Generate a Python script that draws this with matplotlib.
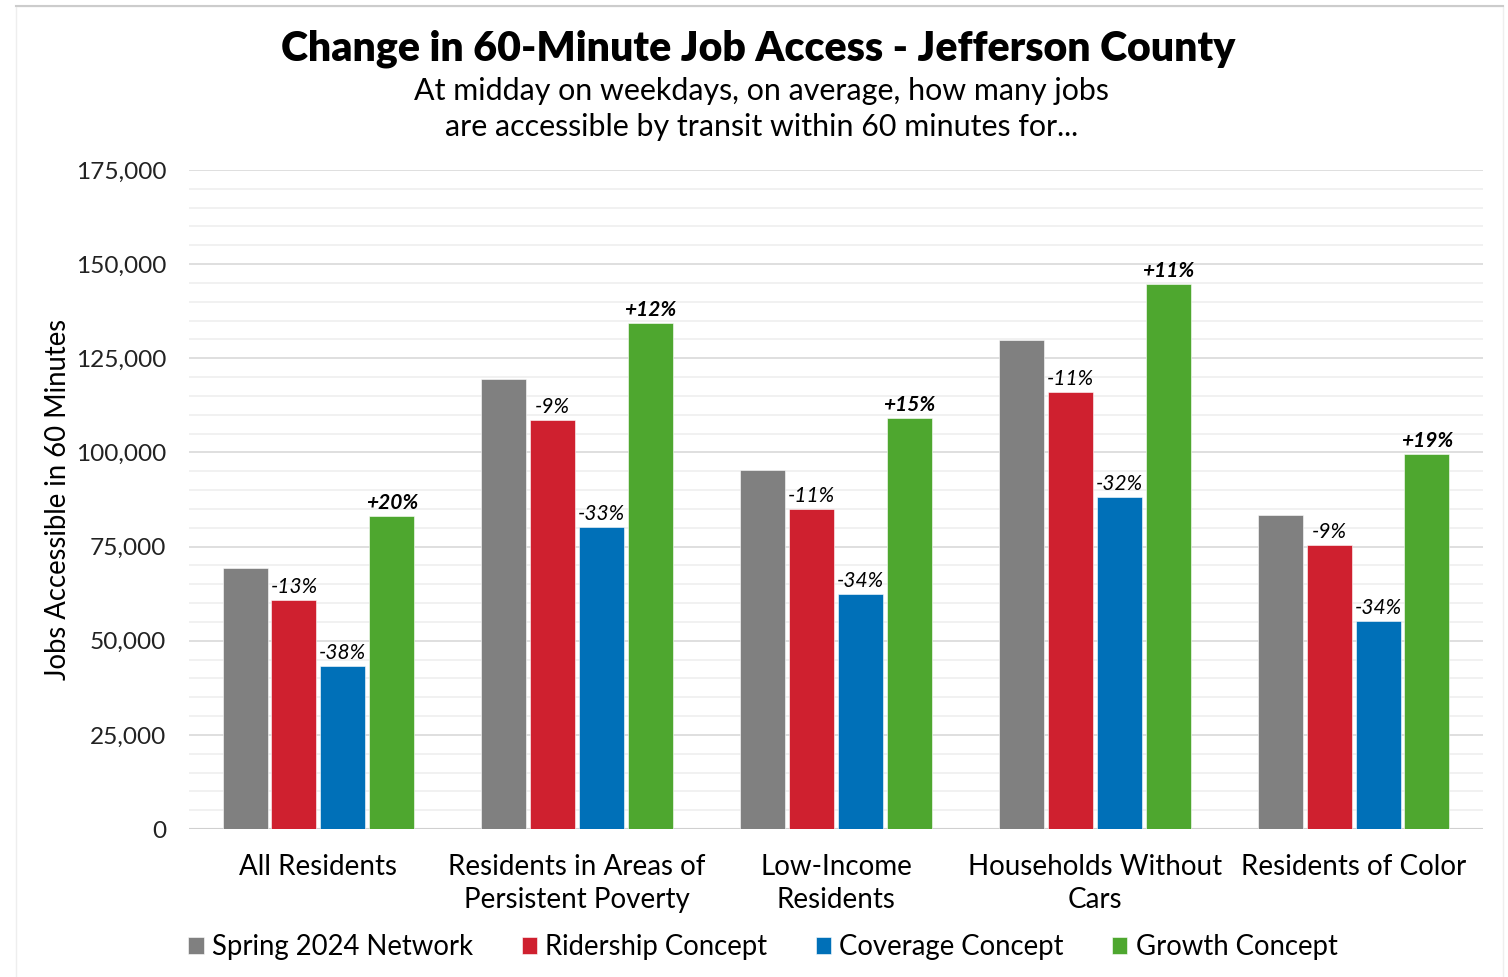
import matplotlib
matplotlib.use("Agg")
import matplotlib.pyplot as plt
import numpy as np
from matplotlib.patches import Rectangle
from matplotlib.ticker import MultipleLocator, FuncFormatter

plt.rcParams['font.family'] = ['Lato', 'DejaVu Sans']

categories = ["All Residents", "Residents in Areas of\nPersistent Poverty",
              "Low-Income\nResidents", "Households Without\nCars", "Residents of Color"]
series_names = ["Spring 2024 Network", "Ridership Concept", "Coverage Concept", "Growth Concept"]
spring_2024 = [69400, 119500, 95400, 129900, 83400]
ridership = [60800, 108700, 85000, 116100, 75500]
coverage = [43300, 80300, 62400, 88100, 55300]
growth = [83200, 134300, 109200, 144700, 99700]
ridership_pct = ["-13%", "-9%", "-11%", "-11%", "-9%"]
coverage_pct = ["-38%", "-33%", "-34%", "-32%", "-34%"]
growth_pct = ["+20%", "+12%", "+15%", "+11%", "+19%"]

colors = ["#808080", "#CF202F", "#0070B8", "#4EA72F"]

fig = plt.figure(figsize=(15.08, 9.77), dpi=100)
ax = fig.add_axes([189 / 1508, 1 - 829 / 977, (1483 - 189) / 1508, (829 - 170) / 977])

x = np.arange(len(categories))
step = 0.189
width = 0.174
all_series = [spring_2024, ridership, coverage, growth]
all_labels = [None, ridership_pct, coverage_pct, growth_pct]
for i, (vals, name, col, labs) in enumerate(zip(all_series, series_names, colors, all_labels)):
    pos = x + (i - 1.5) * step
    bars = ax.bar(pos, vals, width=width, color=col, label=name, zorder=3,
                  edgecolor='white', linewidth=0.4)
    if labs is not None:
        bold = labs[0].startswith("+")
        for b, lab in zip(bars, labs):
            ax.annotate(lab, (b.get_x() + b.get_width() / 2, b.get_height()),
                        xytext=(0, 2), textcoords='offset points', ha='center', va='bottom',
                        fontsize=15, style='italic',
                        fontweight='bold' if bold else 'normal', color='black', zorder=4)

ax.set_xlim(-0.5, len(categories) - 0.5)
ax.set_ylim(0, 175000)
ax.yaxis.set_major_locator(MultipleLocator(25000))
ax.yaxis.set_minor_locator(MultipleLocator(5000))
ax.yaxis.set_major_formatter(FuncFormatter(lambda v, p: f"{int(v):,}"))
ax.grid(axis='y', which='major', color='#d9d9d9', linewidth=1.2, zorder=0)
ax.grid(axis='y', which='minor', color='#efefef', linewidth=1.2, zorder=0)
ax.axhline(0, color='#d0d0d0', linewidth=1.5, zorder=2)
for s in ax.spines.values():
    s.set_visible(False)
ax.tick_params(axis='both', which='both', length=0)
ax.tick_params(axis='y', labelsize=17.6, pad=16.5, labelcolor='#222222')
ax.set_xticks(x)
ax.set_xticklabels(categories, fontsize=20, linespacing=1.32)
ax.tick_params(axis='x', pad=18)
ax.set_ylabel("Jobs Accessible in 60 Minutes", fontsize=19.8)
ax.yaxis.set_label_coords(-0.091, 0.5)

fig.text(0.503, 1 - 49 / 977, "Change in 60-Minute Job Access - Jefferson County",
         ha='center', va='center', fontsize=29.5, fontweight='heavy')
fig.text(0.505, 1 - 109 / 977,
         "At midday on weekdays, on average, how many jobs\nare accessible by transit within 60 minutes for...",
         ha='center', va='center', fontsize=21.9, linespacing=1.38)

fig.legend(loc='center', bbox_to_anchor=(0.506, 1 - 947 / 977), ncol=4, frameon=False,
           fontsize=19.8, handlelength=0.55, handleheight=0.55, handletextpad=0.3,
           columnspacing=1.77)

# thin frame around the figure
fig.add_artist(Rectangle((16 / 1508, -0.01), (1503 - 16) / 1508, 1 - 6 / 977 + 0.01,
                         transform=fig.transFigure, fill=False, edgecolor='#eeeeee',
                         linewidth=1.0))
fig.add_artist(plt.Line2D([16 / 1508, 1503 / 1508], [1 - 6 / 977] * 2,
                          transform=fig.transFigure, color='#cccccc', linewidth=1.5))

fig.savefig("out.png", dpi=100, facecolor='white')
